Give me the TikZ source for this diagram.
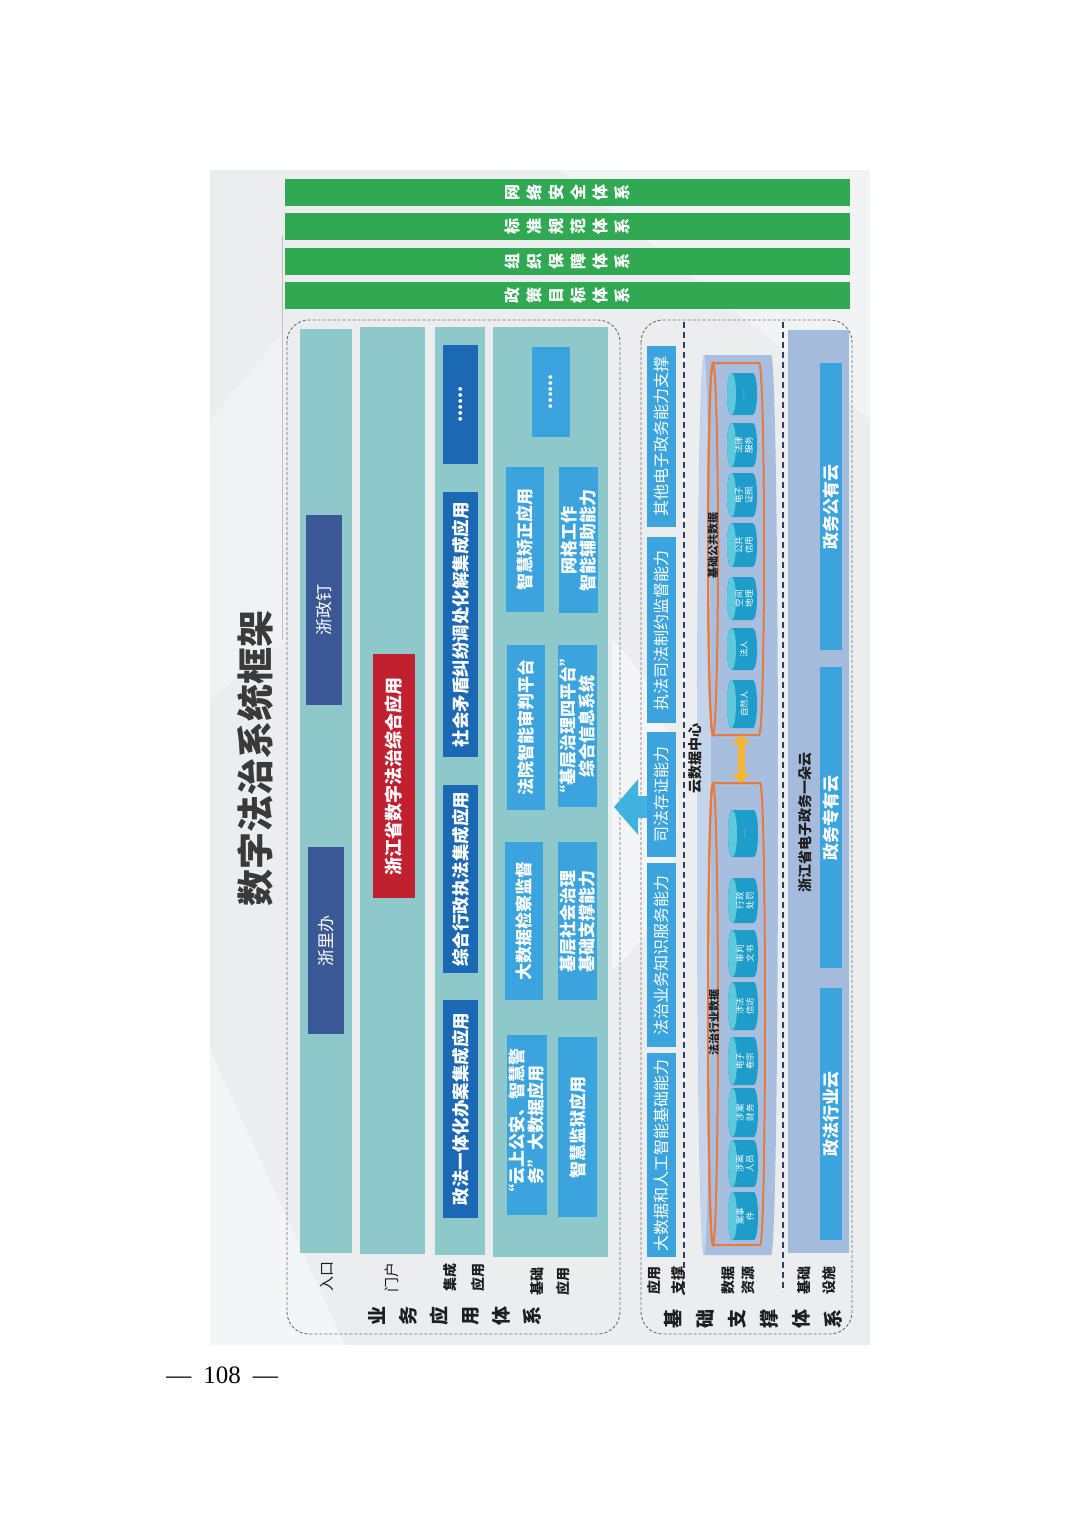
\documentclass[tikz,border=0pt]{standalone}
\usepackage{fontspec}
\setmainfont{Noto Sans CJK SC}
\newfontfamily\serifnum{Liberation Serif}
\usetikzlibrary{arrows.meta}
\definecolor{bgpanel}{HTML}{ECEDEF}
\definecolor{greenbar}{HTML}{31A952}
\definecolor{tealcol}{HTML}{8EC8CB}
\definecolor{navy}{HTML}{3B5896}
\definecolor{redbox}{HTML}{C1212F}
\definecolor{intblue}{HTML}{1B69B4}
\definecolor{ltblue}{HTML}{3BA4DE}
\definecolor{cylbody}{HTML}{A8BEDF}
\definecolor{cylface}{HTML}{C4D4EB}
\definecolor{infra}{HTML}{A5BBDC}
\definecolor{itembody}{HTML}{1E9DCB}
\definecolor{itemface}{HTML}{5EC8DD}
\definecolor{orangeline}{HTML}{E97A3C}
\definecolor{gold}{HTML}{F6B531}
\definecolor{arrowblue}{HTML}{40B2E0}
\definecolor{dashgray}{HTML}{6F6F6F}
\definecolor{divcol}{HTML}{2E3D5E}
\definecolor{labblack}{HTML}{1E1E1E}
\definecolor{titlegray}{HTML}{3A3A3A}
\newcommand{\fs}[2]{\fontsize{#1}{#2}\selectfont}
% box: name, x1, y1, x2, y2, style, text  (page pixel coordinates, text rotated)
\newcommand{\bx}[7]{\node[#6, rotate=90, minimum width={(#5-#3)*1pt}, minimum height={(#4-#2)*1pt}] (#1) at ({(#2+#4)/2},{(#3+#5)/2}) {#7};}
% cylinder lying with its face to the left: x1,y1,x2,y2,rx,bodystyle,facestyle
\newcommand{\cyl}[7]{%
  \pgfmathsetmacro\cxa{#1+#5}\pgfmathsetmacro\cxb{#3-#5}%
  \pgfmathsetmacro\cxc{#3-#5+1.333*#5}\pgfmathsetmacro\cxd{#1+#5-1.333*#5}%
  \pgfmathsetmacro\cry{(#4-#2)/2}\pgfmathsetmacro\cym{(#2+#4)/2}%
  \path[#6] (\cxb,#2) .. controls (\cxc,#2) and (\cxc,#4) .. (\cxb,#4) -- (\cxa,#4) .. controls (\cxd,#4) and (\cxd,#2) .. (\cxa,#2) -- cycle;
  \path[#7] (\cxa,\cym) ellipse[x radius=#5, y radius=\cry];}
% data item: name, y1, y2, x1, x2, text
\newcommand{\dataitem}[6]{%
  \cyl{#4}{#2}{#5}{#3}{4.5}{fill=itembody}{fill=itemface}
  \node[itemtext] (#1) at ({(#4+#5)/2+2},{(#2+#3)/2}) {#6};}
\tikzset{
  bb/.style={inner sep=0pt, outer sep=0pt, align=center, text=white},
  greenb/.style={bb, fill=greenbar, font=\bfseries\fs{16}{22}},
  colbox/.style={bb, fill=tealcol},
  navybox/.style={bb, fill=navy, font=\fs{17}{20}},
  redb/.style={bb, fill=redbox, font=\bfseries\fs{18}{20}},
  intb/.style={bb, fill=intblue, font=\bfseries\fs{17.5}{20}},
  ltb/.style={bb, fill=ltblue, font=\bfseries\fs{17}{19}},
  supb/.style={bb, fill=ltblue, font=\fs{16}{18}},
  infrab/.style={bb, fill=ltblue, font=\bfseries\fs{17}{20}},
  infrapanel/.style={bb, fill=infra},
  dashbox/.style={bb, draw=dashgray, dash pattern=on 3pt off 2pt, line width=0.9pt, rounded corners=22pt},
  ghost/.style={bb, draw=none},
  lbl/.style={rotate=90, align=center, text=labblack, inner sep=0pt},
  itemtext/.style={rotate=90, align=center, text=white, inner sep=0pt, font=\fs{8.5}{10}},
  divline/.style={draw=divcol, line width=1.8pt, dash pattern=on 6pt off 4pt},
  orangecyl/.style={draw=orangeline, line width=2pt},
  dblarrow/.style={draw=gold, line width=7pt, {Triangle[width=18pt,length=9pt]}-{Triangle[width=18pt,length=9pt]}},
  bigarrow/.style={draw=arrowblue, line width=22pt, -{Triangle[width=54pt,length=24pt]}, shorten >=-6pt}
}
\begin{document}
\begin{tikzpicture}[x=1pt,y=-1pt]
\useasboundingbox (0,0) rectangle (1080,1528);
\fill[white] (0,0) rectangle (1080,1528);
% background panel
\fill[bgpanel] (210,170) rectangle (870,1345);
\fill[white, opacity=0.45] (210,1050) -- (345,1345) -- (210,1345) -- cycle;
\fill[white, opacity=0.35] (560,170) -- (870,170) -- (870,420) -- cycle;
\fill[white, opacity=0.45] (612,640) .. controls (700,720) and (700,900) .. (612,970) -- cycle;
\fill[white, opacity=0.3] (210,420) -- (285,330) -- (285,640) -- (210,700) -- cycle;
\draw[color=black!25, line width=0.8pt] (282,235) -- (282,640);
% title
\node[rotate=90, font=\bfseries\fs{37}{40}, text=titlegray, inner sep=0pt] (title) at (255,758) {数字法治系统框架};
% green bars
\bx{g1}{285}{179}{850}{206}{greenb}{网\\络\\安\\全\\体\\系}
\bx{g2}{285}{213}{850}{240}{greenb}{标\\准\\规\\范\\体\\系}
\bx{g3}{285}{248}{850}{275}{greenb}{组\\织\\保\\障\\体\\系}
\bx{g4}{285}{282}{850}{309}{greenb}{政\\策\\目\\标\\体\\系}
% business application system
\bx{bizsys}{287}{320}{620}{1334}{dashbox}{}
\bx{cEntry}{300}{329}{352}{1253}{colbox}{}
\bx{cPortal}{360}{327}{425}{1254}{colbox}{}
\bx{cInt}{435}{327}{485}{1255}{colbox}{}
\bx{cBase}{493}{327}{608}{1257}{colbox}{}
\bx{zzd}{306}{515}{342}{705}{navybox}{浙政钉}
\bx{zlb}{308}{847}{344}{1034}{navybox}{浙里办}
\bx{zjapp}{373}{654}{415}{898}{redb}{浙江省数字法治综合应用}
\bx{i0}{443}{345}{478}{464}{intb}{......}
\bx{i1}{443}{492}{478}{757}{intb}{社会矛盾纠纷调处化解集成应用}
\bx{i2}{443}{785}{478}{973}{intb}{综合行政执法集成应用}
\bx{i3}{443}{1000}{478}{1218}{intb}{政法一体化办案集成应用}
\bx{b0}{532}{347}{570}{437}{ltb}{......}
\bx{b1}{506}{467}{544}{612}{ltb}{智慧矫正应用}
\bx{b2}{559}{467}{598}{613}{ltb}{网格工作\\智能辅助能力}
\bx{b3}{507}{645}{545}{810}{ltb}{法院智能审判平台}
\bx{b4}{558}{645}{597}{807}{ltb}{“基层治理四平台”\\综合信息系统}
\bx{b5}{505}{842}{543}{1000}{ltb}{大数据检察监督}
\bx{b6}{558}{842}{597}{1000}{ltb}{基层社会治理\\基础支撑能力}
\bx{b7}{507}{1035}{547}{1215}{ltb}{“云上公安、智慧警\\务”大数据应用}
\bx{b8}{558}{1037}{597}{1217}{ltb}{智慧监狱应用}
\node[lbl, font=\fs{15}{16}] (lEntry) at (327,1276) {入口};
\node[lbl, font=\fs{15}{16}] (lPortal) at (392,1277) {门户};
\node[lbl, font=\bfseries\fs{14}{28}] (lInt) at (464,1277) {集成\\应用};
\node[lbl, font=\bfseries\fs{14}{26}] (lBase) at (550,1281) {基础\\应用};
\node[lbl, font=\bfseries\fs{19}{31}] (lBiz) at (455,1316) {业\\务\\应\\用\\体\\系};
% support system
\bx{supbox}{641}{320}{852}{1334}{dashbox}{}
\bx{s1}{647}{346}{676}{527}{supb}{其他电子政务能力支撑}
\bx{s2}{647}{537}{676}{723}{supb}{执法司法制约监督能力}
\bx{s3}{647}{732}{676}{857}{supb}{司法存证能力}
\bx{s4}{647}{863}{676}{1047}{supb}{法治业务知识服务能力}
\bx{s5}{647}{1053}{676}{1257}{supb}{大数据和人工智能基础能力}
\draw[divline] (684,322) -- (684,1295);
\draw[divline] (783,322) -- (783,1292);
% data resources cylinder
\cyl{697}{355}{778}{1255}{7}{fill=cylbody}{fill=cylface}
\cyl{708}{363}{764}{735}{5}{orangecyl}{orangecyl}
\cyl{708}{783}{765}{1245}{5}{orangecyl}{orangecyl}
\bx{pubdata}{708}{363}{764}{735}{ghost}{}
\bx{inddata}{708}{783}{764}{1245}{ghost}{}
\dataitem{p0}{373}{415}{727}{757}{\fs{6}{7}......}
\dataitem{p1}{423}{467}{727}{757}{法律\\服务}
\dataitem{p2}{473}{517}{727}{757}{电子\\证照}
\dataitem{p3}{523}{567}{727}{757}{公共\\信用}
\dataitem{p4}{577}{620}{727}{757}{空间\\地理}
\dataitem{p5}{628}{670}{727}{757}{法人}
\dataitem{p6}{680}{728}{727}{757}{自然人}
\dataitem{d0}{810}{857}{728}{758}{\fs{6}{7}......}
\dataitem{d1}{878}{923}{728}{758}{行政\\处罚}
\dataitem{d2}{930}{977}{728}{758}{审判\\文书}
\dataitem{d3}{982}{1030}{728}{758}{涉法\\信访}
\dataitem{d4}{1037}{1085}{728}{758}{电子\\卷宗}
\dataitem{d5}{1088}{1137}{728}{758}{涉案\\财务}
\dataitem{d6}{1140}{1187}{728}{758}{涉案\\人员}
\dataitem{d7}{1192}{1240}{728}{758}{案事\\件}
\draw[dblarrow] ([xshift=5pt]pubdata.west) -- ([xshift=5pt]inddata.east);
\node[lbl, font=\bfseries\fs{14}{16}] (cdc) at (695,758) {云数据中心};
\node[lbl, font=\bfseries\fs{11}{12}] (publ) at (713,545) {基础公共数据};
\node[lbl, font=\bfseries\fs{11}{12}] (indl) at (714,1022) {法治行业数据};
% infrastructure
\bx{infrapan}{788}{330}{849}{1253}{infrapanel}{}
\bx{f1}{820}{363}{842}{650}{infrab}{政务公有云}
\bx{f2}{820}{667}{842}{968}{infrab}{政务专有云}
\bx{f3}{820}{988}{842}{1240}{infrab}{政法行业云}
\node[lbl, font=\bfseries\fs{14}{16}] (onecloud) at (805,822) {浙江省电子政务一朵云};
\node[lbl, font=\bfseries\fs{14}{24}] (lApp) at (666,1280) {应用\\支撑};
\node[lbl, font=\bfseries\fs{14}{20}] (lData) at (738,1280) {数据\\资源};
\node[lbl, font=\bfseries\fs{14}{25}] (lInfra) at (817,1280) {基础\\设施};
\node[lbl, font=\bfseries\fs{19}{32}] (lSup) at (753,1319) {基\\础\\支\\撑\\体\\系};
% arrow from support to business system
\coordinate (arrS) at (647,807);
\draw[bigarrow] (arrS) -- (bizsys.south |- arrS);
% page number
\node[font=\serifnum\fs{25}{28}, inner sep=0pt] (pgnum) at (222,1375) {—\hspace{12pt}108\hspace{12pt}—};
\end{tikzpicture}
\end{document}
